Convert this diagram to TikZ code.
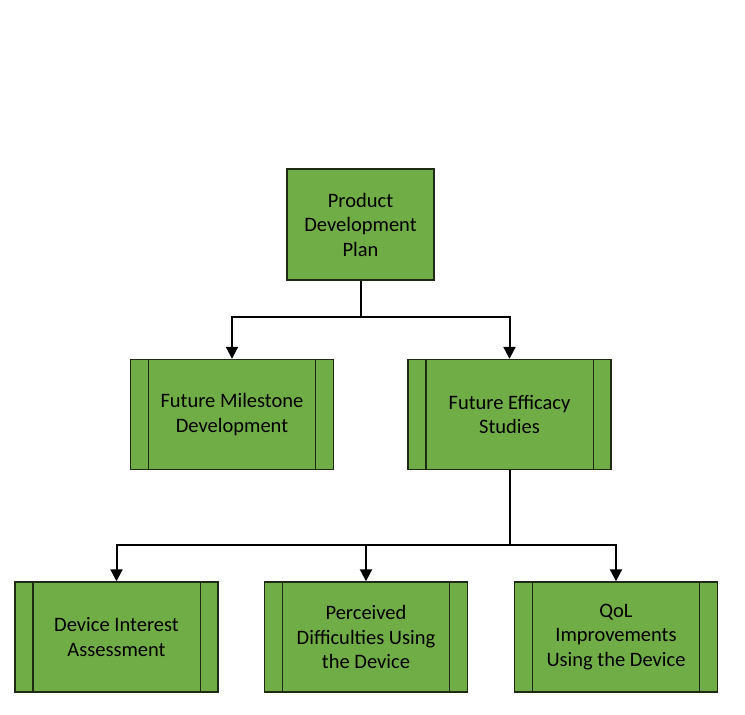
\documentclass[tikz,border=0pt]{standalone}
\usepackage{fontspec}
\setmainfont{Carlito}
\usetikzlibrary{arrows.meta}
\definecolor{boxgreen}{HTML}{70AD47}
\definecolor{boxline}{HTML}{1E2A14}
\begin{document}
\begin{tikzpicture}[x=1pt,y=-1pt,
  boxbase/.style={draw=boxline,line width=1.4pt,fill=boxgreen,
    align=center,inner sep=0pt,
    font=\fontsize{20.5}{24.5}\selectfont,text=black},
  plainbox/.style={boxbase,minimum width=147pt,minimum height=111pt},
  procbox/.style={boxbase,minimum width=203pt,minimum height=110pt},
  sideline/.style={draw=boxline,line width=1.4pt},
  link/.style={draw=black,line width=2pt},
  arrowlink/.style={link,-{Triangle[length=12pt,width=12pt]}}]
\useasboundingbox (0,0) rectangle (745,715);

% top level
\node[plainbox] (plan) at (360.5,224.5) {Product\\Development\\Plan};

% second level
\node[procbox] (milestone) at (232,414.5) {Future Milestone\\Development};
\node[procbox] (efficacy) at (509.5,414.5) {Future Efficacy\\Studies};

% third level
\node[procbox] (interest) at (116.5,637) {Device Interest\\Assessment};
\node[procbox] (difficult) at (366,637) {Perceived\\Difficulties Using\\the Device};
\node[procbox] (qol) at (616,637) {QoL\\Improvements\\Using the Device};

% vertical bars of the predefined-process boxes
\foreach \n in {milestone,efficacy,interest,difficult,qol} {
  \draw[sideline] ([xshift=18.5pt]\n.north west) -- ([xshift=18.5pt]\n.south west);
  \draw[sideline] ([xshift=-18.5pt]\n.north east) -- ([xshift=-18.5pt]\n.south east);
}

% branch points
\coordinate (j1) at (360.5,317);
\coordinate (j2) at (509.5,545);

\draw[link] (plan.south) -- (j1);
\draw[arrowlink] (j1) -| (milestone.north);
\draw[arrowlink] (j1) -| (efficacy.north);

\draw[link] (efficacy.south) -- (j2);
\draw[arrowlink] (j2) -| (interest.north);
\draw[arrowlink] (j2) -| (difficult.north);
\draw[arrowlink] (j2) -| (qol.north);
\end{tikzpicture}
\end{document}
